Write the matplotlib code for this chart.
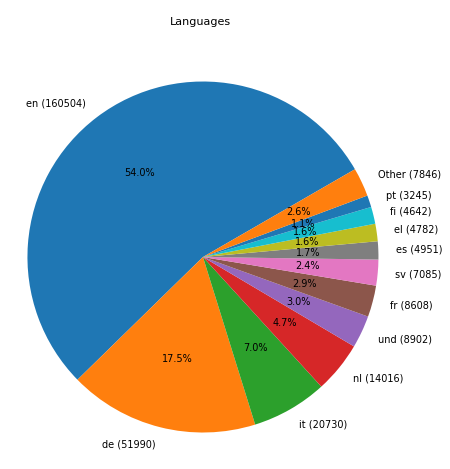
import matplotlib
matplotlib.use("Agg")
import matplotlib.pyplot as plt

langs = ["en", "de", "it", "nl", "und", "fr", "sv", "es", "el", "fi", "pt", "Other"]
counts = [160504, 51990, 20730, 14016, 8902, 8608, 7085, 4951, 4782, 4642, 3245, 7846]
labels = [f"{l} ({c})" for l, c in zip(langs, counts)]

fig = plt.figure(figsize=(4.5, 4.69), dpi=100)
ax = fig.add_axes([0.022, 0.002, 0.858, 0.9])
ax.pie(counts, labels=labels, autopct="%1.1f%%", startangle=30,
       textprops={"fontsize": 7})
ax.axis("equal")
fig.text(0.446, 1 - 22 / 469, "Languages", fontsize=8, ha="center", va="center")
fig.savefig("out.png", dpi=100)
